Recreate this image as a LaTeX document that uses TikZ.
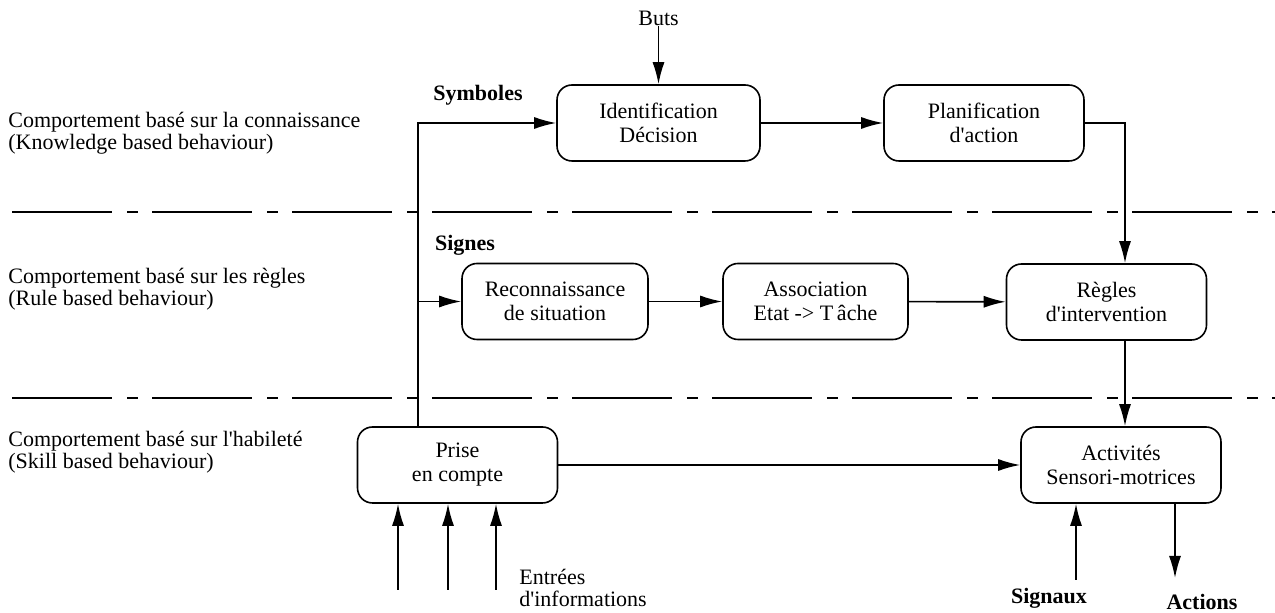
\documentclass[tikz,border=0pt]{standalone}
\usepackage{fontspec}
\setmainfont{Liberation Serif}[Ligatures=TeXOff]
\usetikzlibrary{arrows.meta}
\tikzset{
  etape/.style={
    draw, rectangle, rounded corners=7.5pt, minimum height=38pt, minimum width=100pt,
    line width=0.8pt, align=center, inner sep=0pt
  },
  texte/.style={
    inner sep=0pt, align=left, font=\fontsize{11}{11}\selectfont
  },
  gras/.style={
    inner sep=0pt, font=\fontsize{11}{11}\selectfont\bfseries
  },
  fleche/.style={
    line width=0.8pt, -{Latex[length=11pt,width=6pt]}
  },
  niveau/.style={
    line width=0.65pt, dash pattern=on 50pt off 7.5pt on 5.5pt off 7pt
  }
}

\begin{document}
\begin{tikzpicture}[x=0.5pt, y=-0.5pt, font=\fontsize{11}{12}\selectfont]
 \useasboundingbox (0, 0) rectangle (1275, 613);

 % niveaux
 \node[texte, anchor=west] (connaissance) at (8, 133) {Comportement basé sur la connaissance\\(Knowledge based behaviour)};
 \node[texte, anchor=west] (regle) at (8, 289) {Comportement basé sur les règles\\(Rule based behaviour)};
 \node[texte, anchor=west] (habilete) at (8, 452) {Comportement basé sur l'habileté\\(Skill based behaviour)};
 \draw[niveau] (12, 212) -- (1275, 212);
 \draw[niveau] (12, 398) -- (1275, 398);

 % etapes
 \node[etape, minimum width=101.5pt] (ident) at (658.5, 123) {Identification\\Décision};
 \node[etape] (plan) at (984, 123) {Planification\\d'action};
 \node[etape, minimum width=93pt] (recon) at (555, 301.5) {Reconnaissance\\de situation};
 \node[etape, minimum width=92.5pt] (assoc) at (815.5, 301.5) {Association\\Etat -> T\,âche};
 \node[etape] (regles) at (1106.5, 302) {Règles\\d'intervention};
 \node[etape] (prise) at (457.5, 465) {Prise\\en compte};
 \node[etape] (activ) at (1121, 465) {Activités\\Sensori-motrices};

 % textes
 \node[inner sep=0pt] (buts) at (658.5, 18) {Buts};
 \node[gras] (symboles) at (478, 95) {Symboles};
 \node[gras] (signes) at (465, 245) {Signes};
 \node[texte, anchor=west] (entrees) at (519, 588) {Entrées\\d'informations};
 \node[gras] (signaux) at (1049, 598) {Signaux};
 \node[gras] (actions) at (1202, 602) {Actions};

 \coordinate (coin) at (418, 123);
 \coordinate (droite) at (1125, 123);
 \coordinate (in1) at (398, 590);
 \coordinate (in2) at (448, 590);
 \coordinate (in3) at (496, 590);
 \coordinate (sig) at (1076, 580);
 \coordinate (act) at (1175, 578);

 \draw[fleche] (buts) -- (ident);
 \draw[fleche] (prise.north -| coin) -- (coin) -- (ident.west);
 \draw[fleche] (coin |- recon) -- (recon);
 \draw[fleche] (ident) -- (plan);
 \draw[fleche] (plan.east) -- (droite) -- (regles.north -| droite);
 \draw[fleche] (recon) -- (assoc);
 \draw[fleche] (assoc) -- (regles);
 \draw[fleche] (regles.south -| droite) -- (activ.north -| droite);
 \draw[fleche] (prise) -- (activ);
 \foreach \i in {1, 2, 3} {
   \draw[fleche] (in\i) -- (prise.south -| in\i);
  }
 \draw[fleche] (sig) -- (activ.south -| sig);
 \draw[fleche] (activ.south -| act) -- (act);

\end{tikzpicture}
\end{document}
